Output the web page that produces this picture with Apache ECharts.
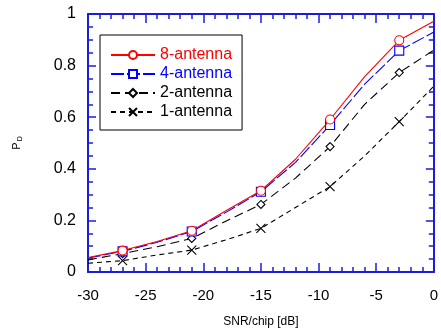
<!DOCTYPE html>
<html>
<head>
<meta charset="utf-8">
<script src="https://cdn.jsdelivr.net/npm/echarts@6/dist/echarts.min.js"></script>
<style>
  html, body { margin: 0; padding: 0; background: #fff; }
  #chart { width: 441px; height: 333px; }
</style>
</head>
<body>
<div id="chart"></div>
<script>
// SNR/chip in dB, one line point every 3 dB
const snr = [-30, -27, -24, -21, -18, -15, -12, -9, -6, -3, 0]
// points that carry a marker
const markerSnr = [-27, -21, -15, -9, -3]

const p8 = [0.056, 0.083, 0.118, 0.160, 0.238, 0.315, 0.437, 0.591, 0.757, 0.898, 0.972]
const p4 = [0.054, 0.080, 0.115, 0.157, 0.232, 0.311, 0.425, 0.570, 0.728, 0.858, 0.930]
const p2 = [0.047, 0.071, 0.098, 0.130, 0.198, 0.262, 0.364, 0.486, 0.650, 0.773, 0.860]
const p1 = [0.034, 0.044, 0.066, 0.085, 0.125, 0.169, 0.250, 0.331, 0.450, 0.583, 0.720]

const names = ['8-antenna', '4-antenna', '2-antenna', '1-antenna']
const colors = ['#ff0000', '#0000ff', '#000000', '#000000']

const axisBlue = '#1c1cdc'
const font = 'Liberation Sans, Arial, Helvetica, sans-serif'

const chart = echarts.init(document.getElementById('chart'))

const points = (vals) =>
  snr.map((x, i) =>
    markerSnr.includes(x) ? { value: [x, vals[i]] } : { value: [x, vals[i]], symbol: 'none' }
  )

const makeSeries = (idx, vals, symbol, size, dash) => ({
  name: names[idx],
  type: 'line',
  data: points(vals),
  symbol: symbol,
  symbolSize: size,
  showAllSymbol: true,
  xAxisIndex: 0,
  yAxisIndex: 0,
  lineStyle: { color: colors[idx], width: 1.1, type: dash },
  itemStyle: { color: '#fff', borderColor: colors[idx], borderWidth: 1.1 },
  animation: false,
  z: 10 - idx,
})

const baseAxis = {
  axisLine: { show: true, onZero: false, lineStyle: { color: axisBlue, width: 2 } },
  axisTick: { show: true, inside: true, length: 8, lineStyle: { color: axisBlue, width: 1.5 } },
  minorTick: { show: true, length: 5, lineStyle: { color: axisBlue, width: 1.5 } },
  splitLine: { show: false },
}

const option = {
  backgroundColor: '#fff',
  grid: { left: 88, right: 5, top: 14, bottom: 61 },
  legend: {
    orient: 'vertical',
    left: 100,
    top: 35,
    padding: [12, 10, 10, 10],
    itemGap: 3,
    itemWidth: 44,
    itemHeight: 10,
    borderColor: '#000',
    borderWidth: 1,
    backgroundColor: '#fff',
    textStyle: { fontSize: 16, fontFamily: font },
    data: names.map((n, i) => ({ name: n, textStyle: { color: colors[i] } })),
  },
  xAxis: [
    {
      ...baseAxis,
      type: 'value',
      min: -30,
      max: 0,
      interval: 5,
      minorTick: { ...baseAxis.minorTick, splitNumber: 5 },
      axisTick: { ...baseAxis.axisTick, length: 9 },
      axisLabel: { color: '#000', fontSize: 15, fontFamily: font, margin: 16 },
      name: 'SNR/chip [dB]',
      nameLocation: 'middle',
      nameGap: 44,
      nameTextStyle: { color: '#000', fontSize: 12, fontFamily: font },
    },
    {
      ...baseAxis,
      type: 'value',
      position: 'top',
      min: -30,
      max: 0,
      interval: 5,
      minorTick: { ...baseAxis.minorTick, splitNumber: 5 },
      axisTick: { ...baseAxis.axisTick, length: 9 },
      axisLabel: { show: false },
    },
  ],
  yAxis: [
    {
      ...baseAxis,
      type: 'value',
      min: 0,
      max: 1,
      interval: 0.2,
      minorTick: { ...baseAxis.minorTick, splitNumber: 4 },
      axisLabel: { color: '#000', fontSize: 16, fontFamily: font, margin: 12 },
      name: '{p|P}{d|D}',
      nameLocation: 'middle',
      nameRotate: 90,
      nameGap: 64,
      nameTextStyle: {
        rich: {
          p: { fontSize: 11, fontFamily: font, color: '#000' },
          d: { fontSize: 7, fontFamily: font, color: '#000', padding: [8, 0, 0, 1] },
        },
      },
    },
    {
      ...baseAxis,
      type: 'value',
      position: 'right',
      min: 0,
      max: 1,
      interval: 0.2,
      minorTick: { ...baseAxis.minorTick, splitNumber: 4 },
      axisLabel: { show: false },
    },
  ],
  series: [
    makeSeries(0, p8, 'circle', 9, 'solid'),
    makeSeries(1, p4, 'rect', 9, [13, 3]),
    makeSeries(2, p2, 'diamond', 8, [9, 5]),
    makeSeries(3, p1, 'path://M0,0L10,10M10,0L0,10', 9, [5, 4]),
  ],
}

chart.setOption(option)
</script>
</body>
</html>
